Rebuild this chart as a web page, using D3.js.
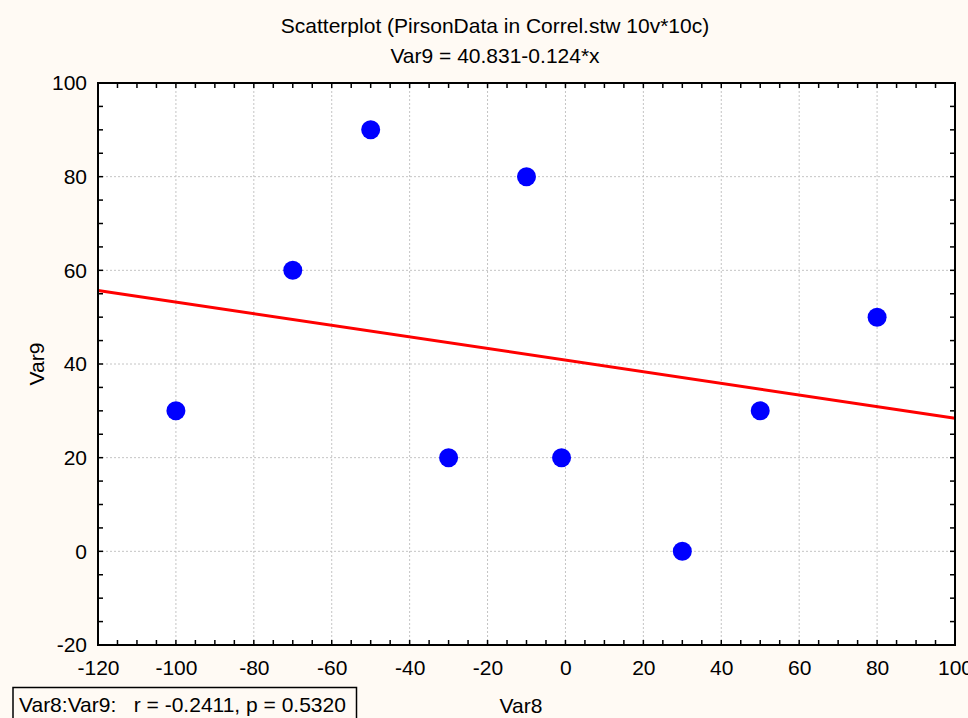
<!DOCTYPE html>
<html>
<head>
<meta charset="utf-8">
<script src="https://cdn.jsdelivr.net/npm/d3@7"></script>
<style>
  body { margin: 0; background: #fffaf4; }
  svg { display: block; }
  text { font-family: "Liberation Sans", Arial, sans-serif; fill: #000; }
</style>
</head>
<body>
<svg id="chart" width="968" height="718"></svg>
<script>
const var8 = [-100, -70, -50, -30, -10, -1, 30, 50, 80];
const var9 = [30, 60, 90, 20, 80, 20, 0, 30, 50];
const xTicks = [-120, -100, -80, -60, -40, -20, 0, 20, 40, 60, 80, 100];
const yTicks = [-20, 0, 20, 40, 60, 80, 100];
const fitIntercept = 40.831;
const fitSlope = -0.124;

const svg = d3.select("#chart");
const plot = { left: 98, right: 955, top: 83, bottom: 645 };
const fontSize = 21;

const x = d3.scaleLinear().domain([-120, 100]).range([plot.left, plot.right]);
const y = d3.scaleLinear().domain([-20, 100]).range([plot.bottom, plot.top]);

// white plot area
svg.append("rect")
  .attr("x", plot.left).attr("y", plot.top)
  .attr("width", plot.right - plot.left).attr("height", plot.bottom - plot.top)
  .attr("fill", "#fff");

// dotted grid at major ticks
const grid = svg.append("g").attr("stroke", "#c4c4c4").attr("stroke-dasharray", "2,2");
grid.selectAll("line.gx").data(xTicks.slice(1, -1)).enter().append("line")
  .attr("x1", (d) => x(d)).attr("x2", (d) => x(d))
  .attr("y1", plot.top).attr("y2", plot.bottom);
grid.selectAll("line.gy").data(yTicks.slice(1, -1)).enter().append("line")
  .attr("x1", plot.left).attr("x2", plot.right)
  .attr("y1", (d) => y(d)).attr("y2", (d) => y(d));

// inward minor ticks on all four sides
const xMinor = d3.range(-120, 101, 5);
const yMinor = d3.range(-20, 101, 5);
const tk = 5;
const ticks = svg.append("g").attr("stroke", "#000").attr("stroke-width", 1.5);
[plot.bottom, plot.top].forEach((yy, i) => {
  ticks.selectAll(null).data(xMinor).enter().append("line")
    .attr("x1", (d) => x(d)).attr("x2", (d) => x(d))
    .attr("y1", yy).attr("y2", i === 0 ? yy - tk : yy + tk);
});
[plot.left, plot.right].forEach((xx, i) => {
  ticks.selectAll(null).data(yMinor).enter().append("line")
    .attr("y1", (d) => y(d)).attr("y2", (d) => y(d))
    .attr("x1", xx).attr("x2", i === 0 ? xx + tk : xx - tk);
});

// axis labels via d3 axes (lines hidden, only text kept)
const xAxis = svg.append("g")
  .attr("transform", `translate(0,${plot.bottom})`)
  .call(d3.axisBottom(x).tickValues(xTicks).tickSize(0).tickPadding(15).tickFormat(d3.format("d")));
const yAxis = svg.append("g")
  .attr("transform", `translate(${plot.left},0)`)
  .call(d3.axisLeft(y).tickValues(yTicks).tickSize(0).tickPadding(11).tickFormat(d3.format("d")));
[xAxis, yAxis].forEach((a) => {
  a.select(".domain").remove();
  a.selectAll("text").attr("font-size", fontSize)
    .attr("font-family", '"Liberation Sans", Arial, sans-serif');
});
// d3 uses a real minus sign; the reference uses a hyphen
svg.selectAll(".tick text").text(function () { return this.textContent.replace("\u2212", "-"); });

// regression line
svg.append("line")
  .attr("x1", x(-120)).attr("y1", y(fitIntercept + fitSlope * -120))
  .attr("x2", x(100)).attr("y2", y(fitIntercept + fitSlope * 100))
  .attr("stroke", "#ff0000").attr("stroke-width", 3);

// points
svg.selectAll("circle.pt").data(var8).enter().append("circle")
  .attr("class", "pt")
  .attr("cx", (d) => x(d))
  .attr("cy", (d, i) => y(var9[i]))
  .attr("r", 9.5)
  .attr("fill", "#0000ff");

// frame
svg.append("rect")
  .attr("x", plot.left).attr("y", plot.top)
  .attr("width", plot.right - plot.left).attr("height", plot.bottom - plot.top)
  .attr("fill", "none").attr("stroke", "#000").attr("stroke-width", 2);

// titles
svg.append("text").attr("x", 495).attr("y", 33).attr("text-anchor", "middle")
  .attr("font-size", fontSize).text("Scatterplot (PirsonData in Correl.stw 10v*10c)");
svg.append("text").attr("x", 495).attr("y", 63).attr("text-anchor", "middle")
  .attr("font-size", fontSize).text("Var9 = 40.831-0.124*x");

// axis titles
svg.append("text").attr("x", 521).attr("y", 713).attr("text-anchor", "middle")
  .attr("font-size", fontSize).text("Var8");
svg.append("text").attr("transform", "translate(44,364) rotate(-90)")
  .attr("text-anchor", "middle").attr("font-size", fontSize).text("Var9");

// statistics box
svg.append("rect").attr("x", 13).attr("y", 687.5).attr("width", 343.5).attr("height", 40)
  .attr("fill", "#fffaf4").attr("stroke", "#000").attr("stroke-width", 1.5);
svg.append("text").attr("x", 19).attr("y", 712).attr("font-size", fontSize)
  .attr("xml:space", "preserve")
  .text("Var8:Var9:   r = -0.2411, p = 0.5320");
</script>
</body>
</html>
